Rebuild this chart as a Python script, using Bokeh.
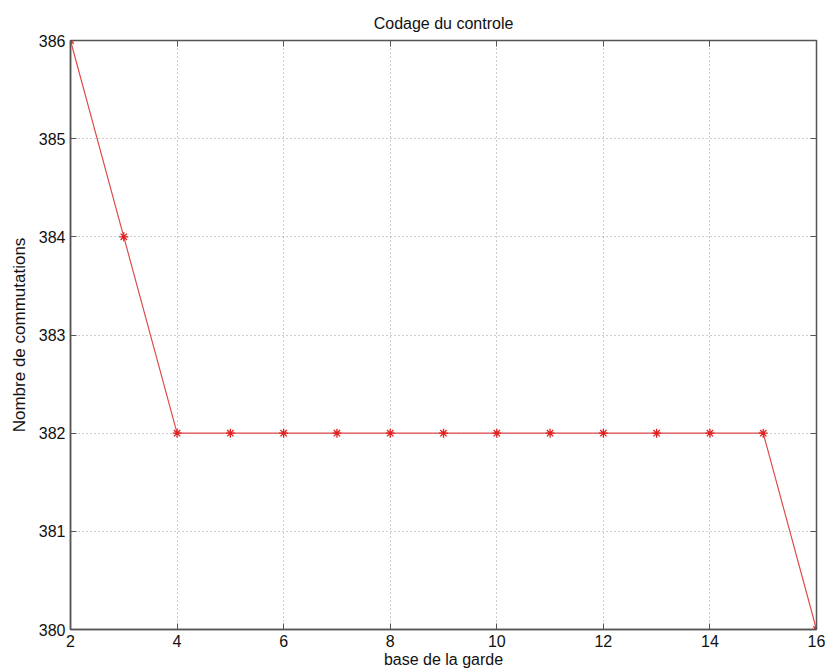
from bokeh.plotting import figure
from bokeh.models import LinearAxis, FixedTicker, Range1d
from bokeh.embed import file_html
from bokeh.resources import INLINE

x_vals = [2, 3, 4, 5, 6, 7, 8, 9, 10, 11, 12, 13, 14, 15, 16]
y_vals = [386, 384, 382, 382, 382, 382, 382, 382, 382, 382, 382, 382, 382, 382, 380]
x_ticks = [2, 4, 6, 8, 10, 12, 14, 16]
y_ticks = [380, 381, 382, 383, 384, 385, 386]

FONT = "Liberation Sans"
AX = "#555555"

p = figure(width=827, height=672, output_backend="svg", toolbar_location=None,
           x_range=Range1d(2, 16), y_range=Range1d(380, 386),
           min_border_left=70, min_border_right=11, min_border_top=40, min_border_bottom=43,
           title="Codage du controle")
p.title.align = "center"
p.title.text_font = FONT
p.title.text_font_size = "16px"
p.title.text_font_style = "normal"
p.title.text_color = "#111111"
p.title.standoff = 18

p.outline_line_color = AX
p.outline_line_width = 1.5

for ax in (p.xaxis[0], p.yaxis[0]):
    ax.axis_line_color = AX
    ax.axis_line_width = 1.5
    ax.major_tick_line_color = AX
    ax.major_tick_in = 6
    ax.major_tick_out = 0
    ax.minor_tick_line_color = None
    ax.major_label_text_font = FONT
    ax.major_label_text_font_size = "16px"
    ax.major_label_text_color = "#111111"
    ax.axis_label_text_font = FONT
    ax.axis_label_text_font_size = "16px"
    ax.axis_label_text_font_style = "normal"
    ax.axis_label_text_color = "#111111"

p.xaxis[0].ticker = FixedTicker(ticks=x_ticks)
p.yaxis[0].ticker = FixedTicker(ticks=y_ticks)
p.xaxis[0].axis_label = "base de la garde"
p.yaxis[0].axis_label = "Nombre de commutations"
p.yaxis[0].axis_label_text_font_size = "17px"
p.xaxis[0].major_label_standoff = 5
p.xaxis[0].axis_label_standoff = 1
p.yaxis[0].major_label_standoff = 5
p.yaxis[0].axis_label_standoff = 7

for loc, ticks in (("above", x_ticks), ("right", y_ticks)):
    a = LinearAxis(ticker=FixedTicker(ticks=ticks))
    a.axis_line_color = AX
    a.major_tick_line_color = AX
    a.major_tick_in = 6
    a.major_tick_out = 0
    a.minor_tick_line_color = None
    a.major_label_overrides = {t: "" for t in ticks}
    a.major_label_standoff = 0
    p.add_layout(a, loc)

p.xgrid.ticker = FixedTicker(ticks=x_ticks)
p.ygrid.ticker = FixedTicker(ticks=y_ticks)
for g in (p.xgrid, p.ygrid):
    g.grid_line_color = "#9a9a9a"
    g.grid_line_dash = "1 3"
    g.grid_line_width = 1

p.line(x_vals, y_vals, line_color="#dd4b4b", line_width=1.2)
p.scatter(x_vals, y_vals, marker="asterisk", size=9, line_color="#e02020", line_width=1.3)

open("out.html", "w").write(file_html(p, INLINE))
